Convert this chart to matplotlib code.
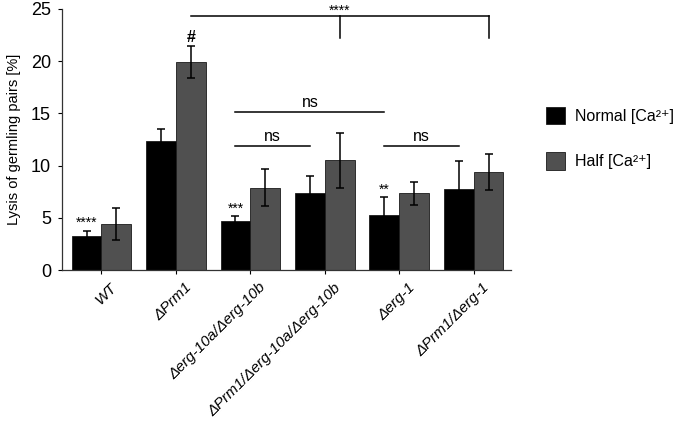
import matplotlib
matplotlib.use("Agg")
import matplotlib.pyplot as plt
import matplotlib.transforms as mtransforms
import numpy as np

plt.rcParams['font.family'] = ['Liberation Sans', 'DejaVu Sans']

categories = ["WT", "ΔPrm1", "Δerg-10a/Δerg-10b", "ΔPrm1/Δerg-10a/Δerg-10b", "Δerg-1", "ΔPrm1/Δerg-1"]
normal_vals = [3.3, 12.4, 4.7, 7.35, 5.3, 7.75]
normal_err = [0.45, 1.1, 0.45, 1.7, 1.7, 2.7]
half_vals = [4.4, 19.9, 7.9, 10.5, 7.35, 9.4]
half_err = [1.5, 1.5, 1.75, 2.6, 1.1, 1.7]
series_names = ["Normal [Ca²⁺]", "Half [Ca²⁺]"]
sig_normal = ["****", "", "***", "", "**", ""]
sig_half = ["", "#", "", "", "", ""]

c_black = "#000000"
c_gray = "#505050"

fig = plt.figure(figsize=(6.77, 4.22), dpi=100)
ax = fig.add_axes([0.0916, 0.360, 0.663, 0.619])

x = np.arange(len(categories))
w = 0.4
ekw = dict(ecolor="black", elinewidth=1.1, capsize=3, capthick=1.1)
b1 = ax.bar(x - w/2, normal_vals, w, color=c_black, edgecolor="#1a1a1a", linewidth=0.6,
            yerr=normal_err, error_kw=ekw, label=series_names[0])
b2 = ax.bar(x + w/2, half_vals, w, color=c_gray, edgecolor="#1a1a1a", linewidth=0.6,
            yerr=half_err, error_kw=ekw, label=series_names[1])

for i, s in enumerate(sig_normal):
    if s:
        ax.text(x[i] - w/2, normal_vals[i] + normal_err[i] + 0.35, s, ha='center', va='baseline',
                fontsize=10)
for i, s in enumerate(sig_half):
    if s:
        ax.text(x[i] + w/2, half_vals[i] + half_err[i] + 0.45, s, ha='center', va='baseline',
                fontsize=11.5, fontweight='bold')

lw = 1.1
# top bracket
ax.plot([x[1] + w/2, x[5] + w/2], [24.35, 24.35], color='black', lw=lw, clip_on=False)
ax.plot([x[3] + w/2, x[3] + w/2], [24.35, 22.2], color='black', lw=lw, clip_on=False)
ax.plot([x[5] + w/2, x[5] + w/2], [24.35, 22.2], color='black', lw=lw, clip_on=False)
ax.text(x[3] + w/2, 24.4, "****", ha='center', va='baseline', fontsize=10, clip_on=False)

# ns lines
ax.plot([x[2] - w/2, x[4] - w/2], [15.1, 15.1], color='black', lw=lw)
ax.text((x[2] + x[4]) / 2 - w/2, 15.6, "ns", ha='center', va='baseline', fontsize=11.5)
ax.plot([x[2] - w/2, x[3] - w/2], [11.9, 11.9], color='black', lw=lw)
ax.text((x[2] + x[3]) / 2 - w/2, 12.35, "ns", ha='center', va='baseline', fontsize=11.5)
ax.plot([x[4] - w/2, x[5] - w/2], [11.9, 11.9], color='black', lw=lw)
ax.text((x[4] + x[5]) / 2 - w/2, 12.35, "ns", ha='center', va='baseline', fontsize=11.5)

ax.set_xlim(-0.53, 5.5)
ax.set_ylim(0, 25)
ax.set_yticks([0, 5, 10, 15, 20, 25])
ax.tick_params(axis='y', labelsize=13, length=3, width=0.8, direction='out', pad=5)
ax.tick_params(axis='x', length=3, width=0.8, direction='out')
ax.set_xticks(x)
ax.set_xticklabels(categories, rotation=45, ha='right', rotation_mode='anchor',
                   fontsize=11, fontstyle='italic')
offset = mtransforms.ScaledTranslation(6/72, -1/72, fig.dpi_scale_trans)
for lab in ax.get_xticklabels():
    lab.set_transform(lab.get_transform() + offset)
ax.set_ylabel("Lysis of germling pairs [%]", fontsize=10.5, labelpad=7)
for sp in ['top', 'right']:
    ax.spines[sp].set_visible(False)
for sp in ['left', 'bottom']:
    ax.spines[sp].set_linewidth(0.9)
    ax.spines[sp].set_color('#333333')

leg = fig.legend(handles=[b1, b2], loc='upper left', bbox_to_anchor=(546/677, 1 - 107/422),
                 bbox_transform=fig.transFigure, frameon=False, borderpad=0, borderaxespad=0,
                 fontsize=11.5, handlelength=1.2, handleheight=1.3, labelspacing=1.75,
                 handletextpad=0.6)

fig.savefig("out.png", dpi=100)
